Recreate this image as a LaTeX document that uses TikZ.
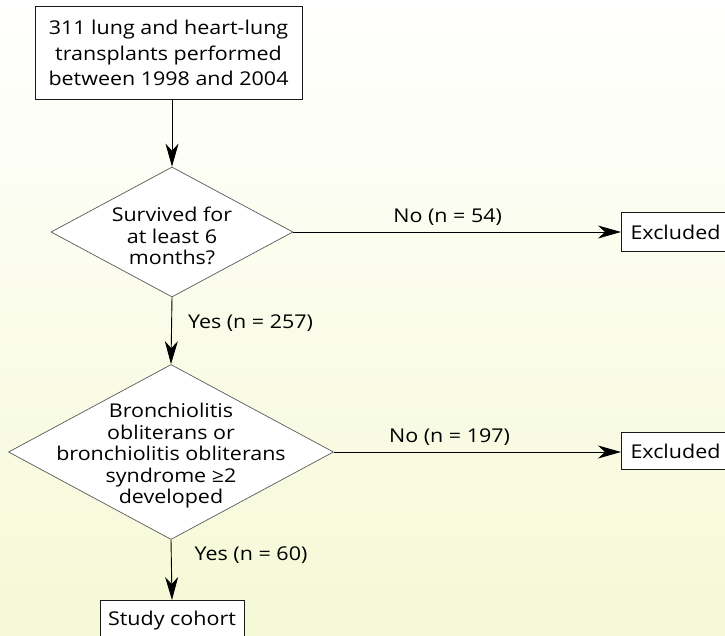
\documentclass[tikz,border=0pt]{standalone}
\usepackage{fontspec}
\setmainfont{Open Sans}[FakeStretch=1.13]
\usetikzlibrary{shapes.geometric,arrows.meta}
\begin{document}
\begin{tikzpicture}[x=1pt,y=-1pt,
  boxtxt/.style={font=\fontsize{19}{25.5}\selectfont},
  diatxt/.style={font=\fontsize{19}{21.5}\selectfont, align=center, inner sep=0pt},
  box/.style={draw=black!90, line width=1pt, fill=white, inner sep=0pt},
  dia/.style={diamond, draw=black!65, line width=0.7pt, fill=white, inner sep=0pt},
  arr/.style={-{Stealth[length=23pt,width=13pt,inset=7pt]}, line width=0.9pt},
  lab/.style={font=\fontsize{19}{20}\selectfont, inner sep=0pt}
]
\useasboundingbox (0,0) rectangle (725,636);
\shade[top color=white, bottom color={rgb,255:red,245;green,249;blue,213}] (0,0) rectangle (725,636);
\begin{scope}
\clip (0,0) rectangle (725,636);
\node[box, boxtxt, minimum width=267pt, minimum height=93pt, align=center] (top) at (168.5,53) {311 lung and heart-lung\\transplants performed\\between 1998 and 2004};
\node[dia, minimum width=242pt, minimum height=130pt] (d1) at (172,232) {};
\node[diatxt] (t1) at ([yshift=-4pt]d1.center) {Survived for\\at least 6\\months?};
\node[dia, minimum width=325pt, minimum height=175pt] (d2) at (171,452) {};
\node[diatxt] (t2) at ([yshift=-4pt]d2.center) {Bronchiolitis\\obliterans or\\bronchiolitis obliterans\\syndrome ≥2\\developed};
\node[box, boxtxt, anchor=west, minimum height=39pt, text width=110pt, inner xsep=9pt, align=left] (e1) at (621,232) {Excluded};
\node[box, boxtxt, anchor=west, minimum height=37pt, text width=110pt, inner xsep=9pt, align=left] (e2) at (621,451) {Excluded};
\node[box, boxtxt, anchor=north, minimum width=144pt, minimum height=40pt] (sc) at (172,600) {Study cohort};
\draw[arr] (top.south -| d1.north) -- (d1.north);
\draw[arr] (d1.east) -- node[lab, pos=0.471, yshift=15pt] (l1) {No (n = 54)} (e1.west);
\draw[arr] (d1.south) -- node[lab, pos=0.38, anchor=west, xshift=16pt] (l2) {Yes (n = 257)} (d2.north);
\draw[arr] (d2.east) -- node[lab, pos=0.403, yshift=15pt] (l3) {No (n = 197)} (e2.west |- d2.east);
\draw[arr] (d2.south) -- node[lab, pos=0.25, anchor=west, xshift=23pt] (l4) {Yes (n = 60)} (sc.north);
\end{scope}
\end{tikzpicture}
\end{document}
